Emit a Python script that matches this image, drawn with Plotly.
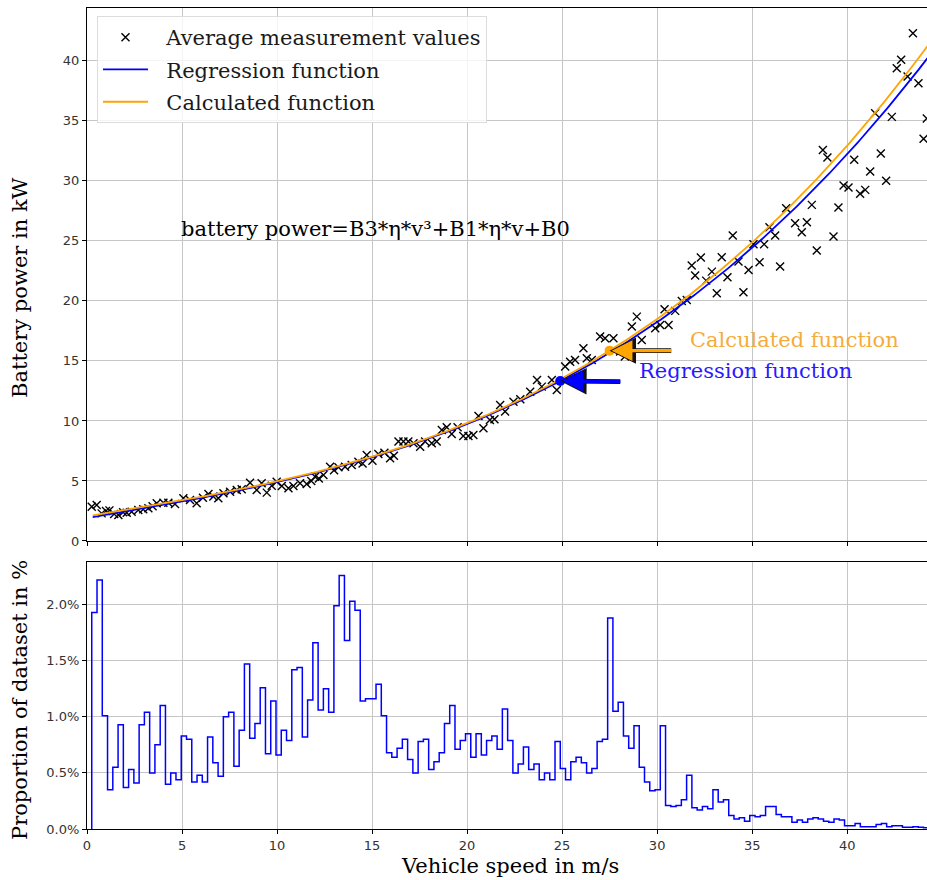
import numpy as np
import plotly.graph_objects as go

# ---------------- data ----------------
speed = [0.25, 0.51, 0.77, 1.0, 1.18, 1.43, 1.65, 1.9, 2.09, 2.35, 2.7, 2.96, 3.23, 3.45, 3.67,
         4.02, 4.28, 4.63, 5.07, 5.42, 5.77, 6.1, 6.39, 6.65, 6.91, 7.18, 7.53, 7.88, 8.14, 8.58,
         8.93, 9.19, 9.46, 9.72, 9.98, 10.25, 10.6, 10.86, 11.21, 11.56, 11.8, 12.0, 12.2, 12.44,
         12.79, 13.0, 13.23, 13.58, 13.93, 14.28, 14.5, 14.72, 15.02, 15.33, 15.65, 15.95, 16.15,
         16.39, 16.65, 16.91, 17.18, 17.53, 17.79, 18.14, 18.4, 18.67, 18.93, 19.19, 19.5, 19.8,
         20.07, 20.33, 20.6, 20.86, 21.2, 21.44, 21.74, 22.0, 22.44, 22.8, 23.32, 23.68, 23.93,
         24.46, 24.72, 25.16, 25.42, 25.68, 26.12, 26.3, 26.56, 27.0, 27.26, 27.7, 28.05, 28.3,
         28.67, 28.93, 29.19, 29.9, 30.16, 30.39, 30.6, 30.95, 31.3, 31.56,
         31.82, 32.0, 32.3, 32.58, 32.88, 33.14, 33.4, 33.7, 33.98, 34.28, 34.54, 34.81, 35.07,
         35.39, 35.63, 35.91, 36.21, 36.47, 36.79, 37.26, 37.61, 37.88, 38.14, 38.4, 38.72, 38.96,
         39.28, 39.54, 39.81, 40.07, 40.37, 40.68, 40.95, 41.21, 41.47, 41.77, 42.05, 42.35, 42.61,
         42.84, 43.18, 43.46, 43.75, 44.02, 44.19]
power = [2.86, 3.0, 2.3, 2.5, 2.55, 2.25, 2.17, 2.4, 2.36, 2.44, 2.58, 2.64, 2.72, 2.9, 3.14,
         3.19, 3.19, 3.08, 3.56, 3.42, 3.14, 3.6, 3.92, 3.7, 3.56, 3.97, 4.11, 4.25, 4.31, 4.86,
         4.25, 4.81, 4.03, 4.6, 4.94, 4.58, 4.39, 4.58, 4.81, 4.75, 5.0, 5.36, 5.2, 5.5,
         6.19, 5.9, 6.14, 6.19, 6.33, 6.6, 6.45, 7.17, 6.69, 7.25, 7.36, 6.89, 7.1,
         8.28, 8.28, 8.28, 8.14, 7.86, 8.28, 8.14, 8.28, 9.25, 9.47, 8.92, 9.47, 8.75,
         8.75, 8.83, 10.42, 9.39, 10.08, 10.14, 11.33, 10.78, 11.6, 11.8, 12.44, 13.42, 12.86,
         13.42, 12.58, 14.53, 14.94, 15.08, 16.06, 15.22, 15.08, 17.03, 16.89, 16.89, 15.78, 15.36,
         17.86, 18.69, 16.75, 17.72, 18.0, 19.3, 18.0, 19.17, 20.0, 20.08,
         22.94, 22.11, 23.61, 21.69, 22.44, 20.64, 23.64, 21.97, 25.44, 23.28, 20.72, 22.58, 24.72,
         23.22, 24.72, 26.14, 25.44, 22.86, 27.72, 26.47, 25.72, 26.56, 28.0, 24.19, 32.58, 31.94,
         25.36, 27.78, 29.61, 29.44, 31.75, 28.92, 29.25, 30.78, 35.64, 32.28, 30.0, 35.33, 39.39,
         40.08, 38.69, 42.3, 38.14, 33.5, 35.2]

# regression / calculated function coefficients (P = B3*v^3 + B1*v + B0)
reg_B3, reg_B1, reg_B0 = 3.05e-4, 0.27, 1.9
calc_B3, calc_B1, calc_B0 = 3.2e-4, 0.26, 2.05
curve_v_min, curve_v_max = 0.3, 44.3

# histogram: share of dataset (%) per speed bin
bin_start = 0.25
bin_width = 0.277
share = [1.93, 2.22, 1.01, 0.35, 0.55, 0.93, 0.37, 0.53, 0.41, 0.93,
         1.04, 0.50, 0.75, 1.10, 0.40, 0.50, 0.44, 0.83, 0.80, 0.42,
         0.48, 0.42, 0.82, 0.59, 0.47, 1.00, 1.04, 0.56, 0.88, 1.47,
         0.81, 0.94, 1.26, 0.67, 1.14, 0.66, 0.88, 0.79, 1.42, 1.44,
         0.82, 1.15, 1.66, 1.06, 1.25, 1.04, 1.99, 2.26, 1.68, 2.03,
         1.95, 1.14, 1.16, 1.16, 1.29, 1.01, 0.68, 0.64, 0.72, 0.80,
         0.62, 0.50, 0.78, 0.80, 0.53, 0.60, 0.68, 0.94, 1.10, 0.71,
         0.79, 0.85, 0.64, 0.85, 0.66, 0.79, 0.83, 0.71, 1.07, 0.79,
         0.50, 0.58, 0.73, 0.53, 0.58, 0.44, 0.50, 0.44, 0.78, 0.54,
         0.44, 0.60, 0.64, 0.59, 0.50, 0.54, 0.78, 0.80, 1.88, 1.05,
         1.13, 0.83, 0.72, 0.92, 0.55, 0.42, 0.34, 0.35, 0.92, 0.21,
         0.20, 0.21, 0.26, 0.48, 0.19, 0.17, 0.20, 0.18, 0.35, 0.24,
         0.26, 0.12, 0.09, 0.10, 0.07, 0.12, 0.11, 0.12, 0.20, 0.20,
         0.13, 0.11, 0.11, 0.06, 0.08, 0.06, 0.09, 0.10, 0.09, 0.07,
         0.06, 0.09, 0.08, 0.03, 0.03, 0.05, 0.02, 0.02, 0.02, 0.04,
         0.05, 0.02, 0.03, 0.03, 0.015, 0.015, 0.02, 0.015, 0.012]
share_ticks = [0.0, 0.5, 1.0, 1.5, 2.0]
share_tick_labels = ["0.0%", "0.5%", "1.0%", "1.5%", "2.0%"]

# annotation anchor speeds and text positions
reg_point_v = 24.9
calc_point_v = 27.5
reg_arrow_tail = (28.14, 13.28)
calc_arrow_tail = (30.82, 15.86)
reg_text_pos = (28.95, 14.17)
calc_text_pos = (31.63, 16.75)
formula_pos = (4.84, 26.0)

x_range = [0, 44.2]
y1_range = [0, 44.4]
y2_range = [0, 2.38]

# ---------------- figure ----------------
SERIF = "DejaVu Serif"
SANS = "DejaVu Sans"
BLUE = "#0000ff"
ORANGE = "#ffa500"
GRID = "#c6c6c6"
FS = 21
NB = "\u00a0\u00a0"


def reg_f(v):
    v = np.asarray(v, dtype=float)
    return reg_B3 * v ** 3 + reg_B1 * v + reg_B0


def calc_f(v):
    v = np.asarray(v, dtype=float)
    return calc_B3 * v ** 3 + calc_B1 * v + calc_B0


vv = np.linspace(curve_v_min, curve_v_max, 400)

fig = go.Figure()

fig.add_trace(go.Scatter(
    x=speed, y=power, mode="markers", name=NB + "Average measurement values",
    marker=dict(symbol="x-thin", size=8, color="black", line=dict(width=1.4, color="black")),
    xaxis="x", yaxis="y", legendgroup="a"))
fig.add_trace(go.Scatter(
    x=vv, y=reg_f(vv), mode="lines", name=NB + "Regression function",
    line=dict(color=BLUE, width=1.8), xaxis="x", yaxis="y", legendgroup="b"))
fig.add_trace(go.Scatter(
    x=vv, y=calc_f(vv), mode="lines", name=NB + "Calculated function",
    line=dict(color=ORANGE, width=1.8), xaxis="x", yaxis="y", legendgroup="c"))

# annotation dots
fig.add_trace(go.Scatter(
    x=[reg_point_v], y=[float(reg_f(reg_point_v))], mode="markers", showlegend=False,
    marker=dict(size=10, color=BLUE), xaxis="x", yaxis="y"))
fig.add_trace(go.Scatter(
    x=[calc_point_v], y=[float(calc_f(calc_point_v))], mode="markers", showlegend=False,
    marker=dict(size=10, color=ORANGE), xaxis="x", yaxis="y"))

# histogram as step line
edges = [bin_start + bin_width * i for i in range(len(share) + 1)]
hx = [edges[0]] + edges
hy = [0] + share + [share[-1]]
fig.add_trace(go.Scatter(
    x=hx, y=hy, mode="lines", line=dict(color=BLUE, width=1.5, shape="hv"),
    showlegend=False, xaxis="x2", yaxis="y2"))

axis_common = dict(
    showgrid=True, gridcolor=GRID, gridwidth=1, zeroline=False,
    showline=True, linecolor="black", linewidth=1.2,
    ticks="outside", ticklen=4, tickcolor="black", tickwidth=1,
    tickfont=dict(family=SANS, size=13, color="#333333"))

fig.update_layout(
    width=927, height=880,
    margin=dict(l=87, r=0, t=8, b=51),
    paper_bgcolor="white", plot_bgcolor="white",
    showlegend=True,
    legend=dict(x=0.0119, y=(829 - 16) / 821, xanchor="left", yanchor="top",
                font=dict(family=SERIF, size=FS, color="#1a1a1a"),
                bgcolor="rgba(255,255,255,0.8)", bordercolor="#dddddd", borderwidth=1,
                tracegroupgap=2, itemwidth=45),
    xaxis=dict(domain=[0, 1], range=x_range, anchor="y", dtick=5, tick0=0,
               showticklabels=False, mirror=True, matches="x2", **axis_common),
    yaxis=dict(domain=[0.3508, 1], range=y1_range, anchor="x", dtick=5, tick0=0,
               mirror=False, **axis_common),
    xaxis2=dict(domain=[0, 1], range=x_range, anchor="y2", dtick=5, tick0=0,
                mirror=True, **axis_common),
    yaxis2=dict(domain=[0, 0.3252], range=y2_range, anchor="x2",
                tickmode="array", tickvals=share_ticks, ticktext=share_tick_labels,
                mirror=False, **axis_common),
)

ann = []
ann.append(dict(x=formula_pos[0], y=formula_pos[1], xref="x", yref="y",
                text="battery power=B3*η*v³+B1*η*v+B0", showarrow=False,
                xanchor="left", yanchor="middle",
                font=dict(family=SERIF, size=FS, color="black")))
ann.append(dict(x=calc_text_pos[0], y=calc_text_pos[1], xref="x", yref="y",
                text="Calculated function", showarrow=False, xanchor="left", yanchor="middle",
                font=dict(family=SERIF, size=FS, color="#f5ac3a")))
ann.append(dict(x=reg_text_pos[0], y=reg_text_pos[1], xref="x", yref="y",
                text="Regression function", showarrow=False, xanchor="left", yanchor="middle",
                font=dict(family=SERIF, size=FS, color="#2a1aff")))
# arrows: black outline then coloured fill
for (pv, f, tail, col) in [(reg_point_v, reg_f, reg_arrow_tail, BLUE),
                           (calc_point_v, calc_f, calc_arrow_tail, ORANGE)]:
    py = float(f(pv))
    ann.append(dict(x=pv, y=py, xref="x", yref="y", ax=tail[0], ay=tail[1],
                    axref="x", ayref="y", text="", showarrow=True,
                    arrowhead=2, arrowsize=1.1, arrowwidth=4.8, arrowcolor="#111111"))
    ann.append(dict(x=pv, y=py, xref="x", yref="y", ax=tail[0], ay=tail[1],
                    axref="x", ayref="y", text="", showarrow=True,
                    arrowhead=2, arrowsize=1.3, arrowwidth=3.2, arrowcolor=col, standoff=2))
# axis titles
ann.append(dict(x=-0.0798, y=(829 - 287) / 821, xref="paper", yref="paper",
                text="Battery power in kW", textangle=-90, showarrow=False,
                xanchor="center", yanchor="middle",
                font=dict(family=SERIF, size=FS, color="black")))
ann.append(dict(x=-0.0798, y=(829 - 700) / 821, xref="paper", yref="paper",
                text="Proportion of dataset in %", textangle=-90, showarrow=False,
                xanchor="center", yanchor="middle",
                font=dict(family=SERIF, size=FS, color="black")))
ann.append(dict(x=0.5036, y=-0.045, xref="paper", yref="paper",
                text="Vehicle speed in m/s", showarrow=False,
                xanchor="center", yanchor="middle",
                font=dict(family=SERIF, size=FS, color="black")))
fig.update_layout(annotations=ann)

fig.write_html("out.html")
